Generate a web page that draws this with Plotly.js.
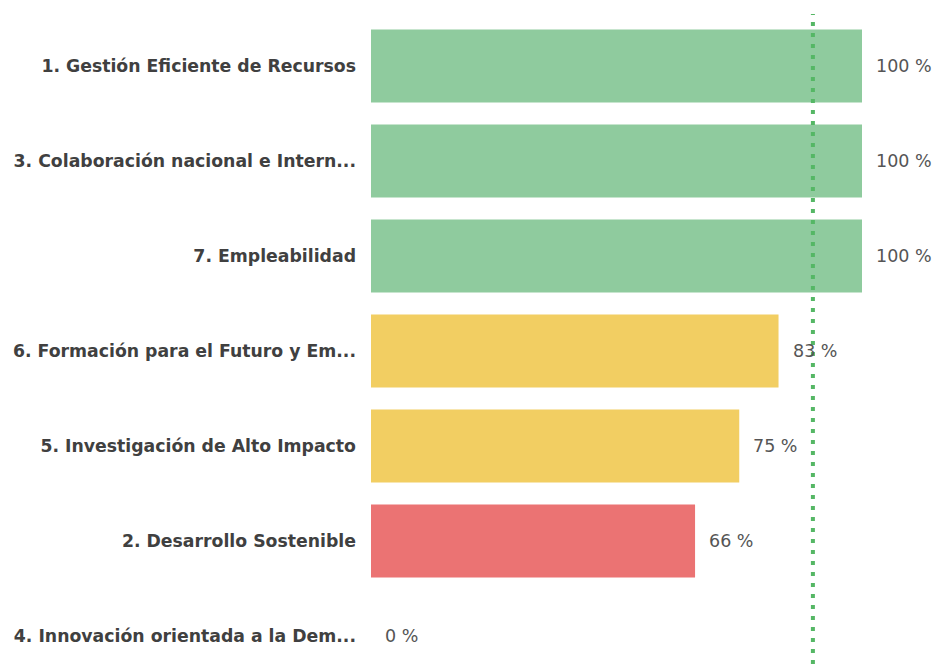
<!DOCTYPE html>
<html><head><meta charset="utf-8">
<script src="https://cdn.plot.ly/plotly-3.0.1.min.js"></script>
<style>html,body{margin:0;padding:0;background:#fff;}#chart{width:936px;height:664px;}</style>
</head><body><div id="chart"></div>
<script>
const categories = [
  "1. Gestión Eficiente de Recursos",
  "3. Colaboración nacional e Intern...",
  "7. Empleabilidad",
  "6. Formación para el Futuro y Em...",
  "5. Investigación de Alto Impacto",
  "2. Desarrollo Sostenible",
  "4. Innovación orientada a la Dem..."
];
const values = [100, 100, 100, 83, 75, 66, 0];
const valueLabels = ["100 %", "100 %", "100 %", "83 %", "75 %", "66 %", "0 %"];
const targetValue = 90;

function colorFor(v){ return v >= 90 ? "#8fcb9e" : (v >= 70 ? "#f2ce62" : "#eb7373"); }

const trace = {
  type: "bar", orientation: "h",
  y: categories, x: values,
  marker: {color: values.map(colorFor)},
  width: 0.77,
  hoverinfo: "none"
};

const annotations = categories.map((c, i) => ({
  x: values[i], y: c, xref: "x", yref: "y",
  text: valueLabels[i], showarrow: false,
  xanchor: "left", xshift: 12,
  font: {family: "DejaVu Sans, sans-serif", size: 17.5, color: "#555"}
}));

const layout = {
  width: 936, height: 664,
  margin: {l: 371, r: 74, t: 0, b: 0},
  paper_bgcolor: "#fff", plot_bgcolor: "#fff",
  showlegend: false,
  xaxis: {range: [0, 100], showgrid: false, zeroline: false, showticklabels: false, showline: false, fixedrange: true},
  yaxis: {type: "category", categoryorder: "array", categoryarray: categories,
    range: [6.295, -0.695], showgrid: false, zeroline: false, showline: false,
    ticks: "", ticklabelstandoff: 14,
    tickfont: {family: "DejaVu Sans, sans-serif", size: 17.3, color: "#404040", weight: 700}},
  shapes: [{type: "line", xref: "x", yref: "paper", x0: targetValue, x1: targetValue, y0: 0, y1: 0.979,
    line: {color: "#55b765", width: 4, dash: "4px,7px"}, layer: "above"}],
  annotations: annotations
};
Plotly.newPlot("chart", [trace], layout, {staticPlot: true});
</script></body></html>
